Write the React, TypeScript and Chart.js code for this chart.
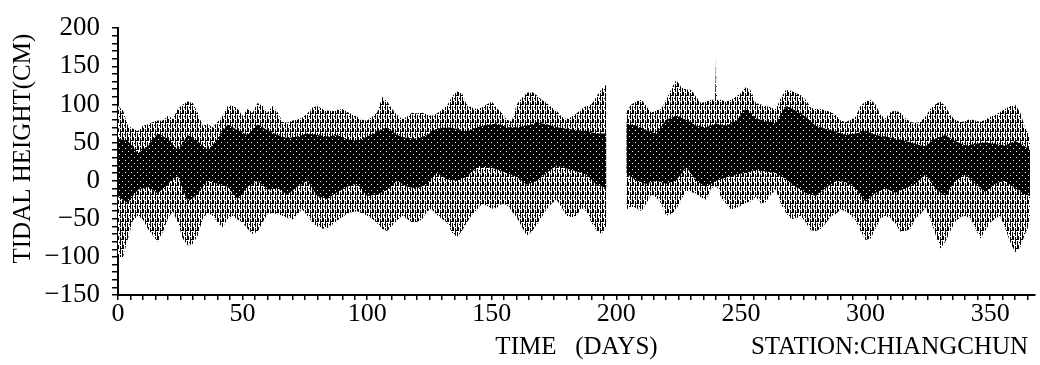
import React, { useEffect, useRef } from 'react';
import { Chart, registerables } from 'chart.js';

Chart.register(...registerables);

// Sampled envelope of the hourly tidal record (day of year -> cm)
const DAYS = [
  0, 2, 4, 6, 8, 10, 12, 14, 16, 18,
  20, 22, 24, 26, 28, 30, 32, 34, 36, 38,
  40, 42, 44, 46, 48, 50, 52, 54, 56, 58,
  60, 62, 64, 66, 68, 70, 72, 74, 76, 78,
  80, 82, 84, 86, 88, 90, 92, 94, 96, 98,
  100, 102, 104, 106, 108, 110, 112, 114, 116, 118,
  120, 122, 124, 126, 128, 130, 132, 134, 136, 138,
  140, 142, 144, 146, 148, 150, 152, 154, 156, 158,
  160, 162, 164, 166, 168, 170, 172, 174, 176, 178,
  180, 182, 184, 186, 188, 190, 192, 194, 196, 198,
  200, 202, 204, 206, 208, 210, 212, 214, 216, 218,
  220, 222, 224, 226, 228, 230, 232, 234, 236, 238,
  239.6, 240, 240.4, 242, 244, 246, 248, 250, 252, 254,
  256, 258, 260, 262, 264, 266, 268, 270, 272, 274,
  276, 278, 280, 282, 284, 286, 288, 290, 292, 294,
  296, 298, 300, 302, 304, 306, 308, 310, 312, 314,
  316, 318, 320, 322, 324, 326, 328, 330, 332, 334,
  336, 338, 340, 342, 344, 346, 348, 350, 352, 354,
  356, 358, 360, 362, 364, 366,
];

const HIGH_WATER = [
  98, 92, 72, 68, 65, 72, 74, 77, 79, 79,
  85, 81, 94, 100, 104, 102, 89, 72, 74, 70,
  77, 85, 98, 99, 94, 85, 94, 89, 102, 98,
  89, 98, 90, 77, 76, 79, 80, 83, 88, 96,
  98, 94, 92, 91, 93, 94, 90, 87, 84, 80,
  79, 84, 89, 110, 104, 94, 86, 81, 84, 89,
  88, 89, 87, 85, 88, 93, 98, 110, 117, 115,
  100, 96, 94, 96, 100, 104, 95, 89, 80, 78,
  100, 108, 115, 117, 112, 106, 102, 96, 92, 84,
  81, 84, 88, 94, 98, 100, 110, 120, 126, null,
  null, null, 90, 100, 104, 106, 98, 89, 92, 94,
  106, 120, 132, 123, 120, 119, 110, 102, 104, 106,
  106, 163, 106, 106, 104, 106, 110, 115, 123, 118,
  102, 100, 98, 96, 94, 108, 119, 118, 115, 112,
  106, 96, 94, 94, 92, 90, 86, 79, 77, 80,
  84, 98, 104, 106, 100, 86, 82, 90, 92, 89,
  82, 77, 76, 77, 84, 94, 100, 104, 98, 86,
  80, 77, 78, 81, 79, 77, 80, 84, 86, 90,
  94, 98, 100, 90, 70, 56,
];

const LOW_WATER = [
  -100, -100, -76, -52, -46, -51, -63, -72, -80, -67,
  -50, -40, -55, -76, -85, -83, -72, -50, -42, -46,
  -55, -61, -50, -46, -51, -55, -63, -70, -67, -55,
  -44, -42, -44, -46, -49, -51, -44, -38, -46, -55,
  -60, -63, -62, -58, -52, -48, -43, -41, -40, -43,
  -46, -50, -56, -63, -66, -59, -52, -46, -50, -55,
  -54, -51, -40, -38, -45, -50, -55, -68, -74, -66,
  -55, -45, -38, -31, -33, -37, -36, -30, -32, -40,
  -48, -60, -72, -67, -58, -48, -38, -30, -25, -35,
  -46, -48, -46, -36, -40, -55, -65, -70, -60, null,
  null, null, -38, -34, -36, -40, -30, -18, -22, -30,
  -46, -44, -38, -25, -13, -15, -17, -22, -25, -10,
  -8, -8, -8, -22, -30, -38, -36, -33, -29, -27,
  -21, -30, -28, -18, -12, -30, -42, -50, -50, -46,
  -55, -65, -66, -63, -56, -47, -44, -38, -40, -45,
  -52, -66, -78, -76, -63, -50, -46, -50, -56, -67,
  -66, -63, -50, -44, -36, -50, -70, -89, -80, -66,
  -54, -48, -46, -50, -62, -76, -66, -55, -50, -46,
  -62, -80, -94, -88, -70, -55,
];

// Dense (dark) core of the record
const CORE_DAYS = [
  0, 4, 8, 12, 16, 20, 24, 28, 32, 36,
  40, 44, 48, 52, 56, 60, 64, 68, 72, 76,
  80, 84, 88, 92, 96, 100, 104, 108, 112, 116,
  120, 124, 128, 132, 136, 140, 144, 148, 152, 156,
  160, 164, 168, 172, 176, 180, 184, 188, 192, 196,
  200, 204, 208, 212, 216, 220, 224, 228, 232, 236,
  240, 244, 248, 252, 256, 260, 264, 268, 272, 276,
  280, 284, 288, 292, 296, 300, 304, 308, 312, 316,
  320, 324, 328, 332, 336, 340, 344, 348, 352, 356,
  360, 364, 366,
];

const CORE_HIGH = [
  55, 52, 36, 45, 62, 55, 40, 60, 52, 40,
  55, 74, 66, 60, 74, 66, 60, 56, 58, 62,
  60, 58, 60, 54, 52, 58, 64, 70, 60, 56,
  55, 60, 68, 70, 68, 64, 70, 73, 75, 70,
  70, 72, 76, 74, 70, 68, 66, 65, 62, 62,
  null, 75, 72, 66, 62, 80, 85, 80, 72, 70,
  75, 72, 78, 95, 82, 78, 75, 98, 92, 84,
  72, 68, 64, 60, 62, 65, 60, 58, 55, 52,
  48, 45, 55, 60, 52, 46, 48, 50, 48, 46,
  52, 45, 40,
];

const CORE_LOW = [
  -21, -29, -12, -8, -17, -4, 6, -28, -17, 0,
  -4, -8, -24, -8, 0, -12, -10, -18, -8, 0,
  -20, -24, -15, -8, -4, -20, -18, -12, 0, -8,
  -10, -5, 10, 2, 0, 5, 18, 18, 15, 10,
  5, -5, 0, 10, 20, 16, 12, 8, -5, -10,
  null, 10, 0, -4, 0, -4, 0, 18, 0, -8,
  0, 4, 8, 10, 14, 12, 10, 2, -8, -16,
  -20, -10, 0, -2, -10, -28, -16, -10, -16, -10,
  -4, 8, -10, -20, 0, 8, -4, -15, -4, 0,
  -10, -18, -20,
];

const X_LABELS = [0, 50, 100, 150, 200, 250, 300, 350];
const Y_LABELS = [200, 150, 100, 50, 0, -50, -100, -150];
const Y_TITLE = 'TIDAL HEIGHT(CM)';
const X_TITLE = 'TIME   (DAYS)';
const STATION = 'STATION:CHIANGCHUN';

const FONT_FAMILY = '"Liberation Serif", "Times New Roman", serif';

function toPoints(xs: number[], ys: (number | null)[]) {
  return xs.map((x, i) => ({ x, y: ys[i] }));
}

function fmt(v: number) {
  return v < 0 ? '\u2212' + Math.abs(v) : String(v);
}

function makePattern(
  ctx: CanvasRenderingContext2D,
  w: number,
  h: number,
  base: string,
  ink: string,
  rects: [number, number, number, number][],
) {
  const c = document.createElement('canvas');
  c.width = w;
  c.height = h;
  const g = c.getContext('2d')!;
  g.fillStyle = base;
  g.fillRect(0, 0, w, h);
  g.fillStyle = ink;
  rects.forEach(([x, y, ww, hh]) => g.fillRect(x, y, ww, hh));
  return ctx.createPattern(c, 'repeat')!;
}

// Axis titles drawn next to the scales (y title sits a little above centre, as in the plot)
const axisTexts = {
  id: 'axisTexts',
  afterDraw(chart: any) {
    const { ctx, chartArea } = chart;
    const xs = chart.scales.x;
    ctx.save();
    ctx.fillStyle = '#000';
    ctx.font = '25px ' + FONT_FAMILY;
    ctx.textAlign = 'left';
    ctx.textBaseline = 'middle';
    ctx.fillText(STATION, xs.getPixelForValue(254), xs.bottom - 18);
    ctx.translate(23, (chartArea.top + chartArea.bottom) / 2 - 13);
    ctx.rotate(-Math.PI / 2);
    ctx.textAlign = 'center';
    ctx.fillText(Y_TITLE, 0, 0);
    ctx.restore();
  },
};

export default function App() {
  const ref = useRef<HTMLCanvasElement>(null);

  useEffect(() => {
    const canvas = ref.current!;
    const ctx = canvas.getContext('2d')!;
    // vertical hatching of the individual tide strokes
    const outerPattern = makePattern(ctx, 5, 9, '#fff', '#000', [
      [0, 0, 1, 2], [0, 3, 1, 6], [2, 0, 1, 6], [2, 7, 1, 2], [3, 2, 1, 4], [1, 5, 1, 1], [4, 8, 1, 1],
    ]);
    // nearly solid core with a few white specks
    const corePattern = makePattern(ctx, 6, 6, '#000', '#fff', [
      [2, 1, 1, 1], [5, 4, 1, 1],
    ]);

    const lineBase = {
      pointRadius: 0,
      borderWidth: 1,
      borderColor: 'rgba(0,0,0,0)',
      tension: 0,
      spanGaps: false,
    };

    const chart = new Chart(canvas, {
      type: 'line',
      data: {
        datasets: [
          { ...lineBase, label: 'core low', data: toPoints(CORE_DAYS, CORE_LOW), fill: false },
          { ...lineBase, label: 'core high', data: toPoints(CORE_DAYS, CORE_HIGH), fill: '-1', backgroundColor: corePattern },
          { ...lineBase, label: 'low water', data: toPoints(DAYS, LOW_WATER), fill: false },
          { ...lineBase, label: 'high water', data: toPoints(DAYS, HIGH_WATER), fill: '-1', backgroundColor: outerPattern },
        ] as any,
      },
      plugins: [axisTexts],
      options: {
        responsive: false,
        animation: false,
        events: [],
        layout: { padding: { top: 20, right: 5, left: 0, bottom: 0 } },
        plugins: {
          legend: { display: false },
          tooltip: { enabled: false },
        },
        scales: {
          x: {
            type: 'linear',
            min: 0,
            max: 368,
            afterFit: (s: any) => { s.height = 70; },
            grid: { drawOnChartArea: false, color: '#000', lineWidth: 1.5, tickLength: 5 },
            border: { display: true, color: '#000', width: 2 },
            ticks: {
              stepSize: 5,
              includeBounds: false,
              autoSkip: false,
              maxRotation: 0,
              padding: -1,
              color: '#000',
              font: { family: FONT_FAMILY, size: 26 },
              callback: (v: any) => (X_LABELS.includes(Number(v)) ? String(v) : ''),
            },
            title: {
              display: true,
              text: X_TITLE,
              color: '#000',
              font: { family: FONT_FAMILY, size: 25 },
              padding: { top: 0, bottom: 3 },
            },
          },
          y: {
            type: 'linear',
            min: -150,
            max: 200,
            afterFit: (s: any) => { s.width = 118; },
            grid: { drawOnChartArea: false, color: '#000', lineWidth: 1.5, tickLength: 6 },
            border: { display: true, color: '#000', width: 2 },
            ticks: {
              stepSize: 10,
              autoSkip: false,
              padding: 12,
              color: '#000',
              font: { family: FONT_FAMILY, size: 27 },
              callback: (v: any) => (Y_LABELS.includes(Number(v)) ? fmt(Number(v)) : ''),
            },
            title: { display: false, text: Y_TITLE },
          },
        },
      } as any,
    });
    return () => chart.destroy();
  }, []);

  return (
    <div style={{ position: 'fixed', left: 0, top: 0, width: 1040, height: 365, background: '#fff' }}>
      <canvas ref={ref} width={1040} height={365} style={{ display: 'block' }} />
    </div>
  );
}
